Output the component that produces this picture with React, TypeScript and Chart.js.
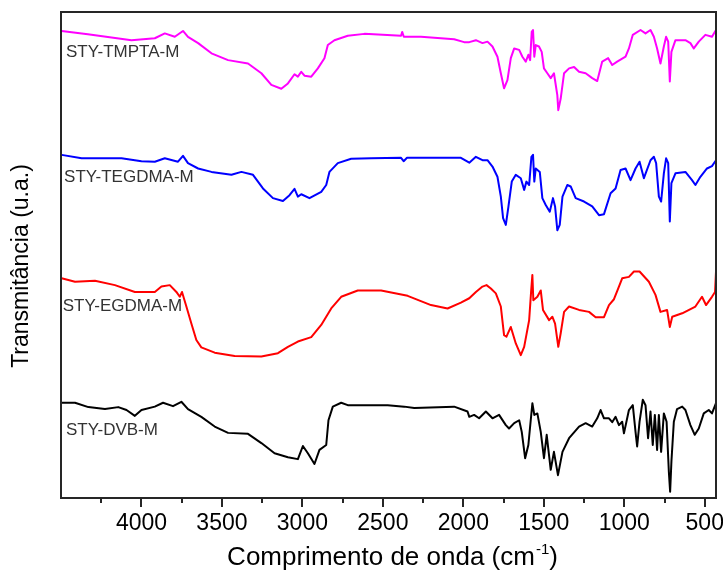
import React, { useEffect, useRef } from "react";
import { Chart, registerables } from "chart.js";

Chart.register(...registerables);

// x: wavenumber (cm-1), y: transmittance (arbitrary units, spectra stacked)
const tmptaWn = [4496, 4333, 4062, 3917, 3855, 3793, 3742, 3711, 3648, 3565, 3462, 3338, 3255, 3193, 3131, 3090, 3049, 3028, 3007, 2987, 2945, 2904, 2863, 2842, 2801, 2718, 2615, 2387, 2380, 2370, 2263, 2057, 1995, 1963, 1922, 1881, 1850, 1819, 1788, 1767, 1747, 1726, 1705, 1684, 1653, 1633, 1612, 1596, 1585, 1575, 1567, 1559, 1550, 1530, 1513, 1499, 1478, 1457, 1437, 1416, 1410, 1395, 1374, 1343, 1312, 1281, 1240, 1199, 1168, 1137, 1100, 1075, 1044, 992, 971, 947, 899, 868, 837, 816, 796, 775, 754, 740, 727, 717, 707, 682, 620, 589, 568, 537, 496, 455, 430];
const tmptaT = [96.1, 95.4, 94.2, 94.6, 95.6, 94.9, 96.1, 94.9, 93.6, 91.5, 90.1, 89.4, 87.4, 85.0, 84.2, 85.3, 87.2, 86.7, 87.7, 86.9, 86.7, 88.4, 90.5, 93.2, 94.2, 95.1, 95.5, 95.1, 95.9, 94.9, 94.9, 94.4, 93.8, 93.8, 94.2, 93.6, 93.9, 92.9, 90.8, 87.4, 84.3, 86.0, 90.5, 92.5, 92.2, 90.8, 89.8, 91.2, 90.1, 95.9, 96.3, 90.8, 93.2, 92.9, 91.8, 88.4, 87.4, 86.4, 87.4, 82.9, 79.8, 82.2, 87.4, 88.4, 88.7, 87.7, 87.4, 86.4, 85.8, 89.8, 90.5, 89.1, 89.8, 90.8, 92.5, 95.3, 96.3, 95.6, 96.3, 94.9, 92.5, 89.4, 92.9, 94.9, 93.9, 85.7, 91.8, 94.2, 94.2, 93.6, 92.5, 93.9, 95.3, 94.9, 96.3];

const tegdmaWn = [4496, 4372, 4124, 4000, 3917, 3855, 3773, 3742, 3711, 3648, 3565, 3441, 3379, 3307, 3245, 3183, 3121, 3080, 3049, 3028, 3007, 2956, 2883, 2852, 2832, 2780, 2697, 2573, 2387, 2371, 2350, 2015, 1963, 1922, 1881, 1850, 1819, 1788, 1767, 1753, 1736, 1720, 1699, 1674, 1643, 1622, 1608, 1591, 1577, 1567, 1559, 1550, 1525, 1509, 1488, 1463, 1443, 1430, 1416, 1401, 1384, 1354, 1333, 1302, 1250, 1199, 1157, 1126, 1085, 1054, 1023, 992, 961, 930, 905, 878, 837, 816, 802, 785, 771, 754, 740, 727, 717, 707, 682, 620, 579, 558, 527, 486, 455, 430];
const tegdmaT = [70.6, 69.9, 69.9, 69.3, 69.2, 69.9, 69.2, 70.4, 68.9, 67.8, 67.1, 66.5, 67.1, 66.5, 63.7, 61.7, 61.1, 62.3, 63.6, 62.0, 62.5, 61.7, 63.0, 64.4, 67.1, 68.9, 69.8, 69.9, 70.0, 69.3, 70.0, 70.0, 69.0, 70.2, 69.5, 69.5, 68.2, 66.1, 62.0, 57.6, 56.2, 59.9, 65.1, 66.5, 65.8, 63.4, 65.1, 64.4, 70.2, 70.6, 65.1, 67.8, 67.1, 61.7, 60.3, 58.9, 61.7, 60.0, 55.1, 56.2, 62.0, 64.4, 64.1, 61.7, 61.0, 60.0, 58.2, 58.4, 62.7, 63.7, 67.5, 67.8, 65.4, 67.8, 69.2, 65.8, 69.5, 70.2, 68.9, 62.0, 61.0, 66.8, 69.9, 68.9, 56.9, 64.8, 66.8, 67.1, 65.4, 64.4, 66.1, 67.8, 68.3, 69.5];

const egdmaWn = [4496, 4413, 4289, 4165, 4041, 3917, 3876, 3824, 3783, 3762, 3748, 3721, 3690, 3659, 3628, 3545, 3421, 3255, 3152, 3090, 3028, 2945, 2883, 2821, 2759, 2656, 2511, 2346, 2201, 2098, 2015, 1963, 1922, 1881, 1856, 1829, 1798, 1767, 1747, 1732, 1705, 1674, 1643, 1622, 1591, 1579, 1571, 1565, 1540, 1519, 1505, 1467, 1447, 1430, 1410, 1395, 1374, 1343, 1281, 1219, 1178, 1126, 1095, 1064, 1038, 1013, 971, 940, 905, 847, 806, 775, 734, 717, 702, 640, 558, 517, 492, 455, 436, 430];
const egdmaT = [45.2, 44.5, 44.7, 43.8, 42.4, 42.4, 43.5, 43.8, 42.4, 41.4, 42.4, 39.4, 35.9, 32.5, 31.0, 29.9, 29.2, 29.1, 29.8, 31.1, 32.2, 33.1, 35.6, 39.0, 41.4, 42.7, 42.7, 41.6, 39.7, 39.0, 40.2, 41.1, 42.4, 43.5, 43.8, 43.1, 42.1, 39.4, 33.5, 33.2, 35.2, 31.8, 29.4, 31.1, 36.6, 42.4, 45.9, 40.7, 41.4, 42.7, 38.7, 36.6, 37.3, 35.9, 31.1, 33.9, 38.3, 39.4, 38.7, 38.3, 37.2, 37.2, 39.7, 40.9, 43.1, 45.2, 45.5, 46.6, 46.6, 44.5, 41.8, 38.3, 38.7, 35.2, 37.3, 38.0, 39.4, 41.4, 39.7, 41.4, 42.4, 46.6];

const dvbWn = [4496, 4413, 4330, 4227, 4144, 4093, 4041, 4000, 3917, 3866, 3804, 3752, 3711, 3628, 3545, 3462, 3338, 3255, 3173, 3090, 3028, 2997, 2966, 2925, 2894, 2852, 2838, 2811, 2759, 2718, 2470, 2367, 2305, 2057, 1974, 1963, 1933, 1902, 1860, 1819, 1778, 1736, 1716, 1684, 1653, 1637, 1616, 1596, 1571, 1559, 1540, 1519, 1499, 1482, 1457, 1437, 1412, 1384, 1343, 1281, 1240, 1199, 1168, 1147, 1126, 1095, 1075, 1054, 1033, 1013, 1002, 971, 947, 930, 920, 905, 885, 868, 852, 837, 823, 810, 796, 785, 771, 754, 737, 723, 715, 707, 692, 672, 640, 620, 589, 562, 537, 506, 475, 455, 430];
const dvbT = [19.6, 19.6, 18.7, 18.3, 18.7, 18.1, 16.9, 18.1, 18.8, 19.6, 18.9, 19.8, 18.3, 16.7, 14.7, 13.4, 13.2, 11.3, 9.2, 8.4, 8.0, 10.7, 9.2, 7.0, 9.9, 10.9, 16.0, 18.8, 19.6, 19.1, 19.1, 18.8, 18.5, 18.8, 17.8, 16.7, 17.1, 16.4, 17.8, 16.4, 17.1, 15.0, 14.3, 15.4, 16.0, 13.6, 8.2, 10.9, 19.5, 17.1, 17.4, 13.6, 8.2, 13.0, 5.8, 9.5, 4.7, 9.5, 12.3, 14.7, 15.4, 14.7, 16.4, 18.1, 16.4, 16.4, 15.6, 16.7, 15.0, 15.7, 13.3, 18.1, 19.1, 13.6, 10.6, 15.7, 20.2, 19.1, 12.3, 17.8, 10.9, 17.1, 9.9, 17.1, 9.5, 17.4, 15.7, 5.4, 1.3, 7.5, 15.7, 18.3, 18.8, 18.1, 15.0, 13.0, 14.3, 17.4, 18.1, 17.4, 19.5];

const seriesNames = ["STY-TMPTA-M", "STY-TEGDMA-M", "STY-EGDMA-M", "STY-DVB-M"];
const seriesColors = ["#ff00ff", "#0000ff", "#ff0000", "#000000"];
const labelWn = [4469, 4481, 4489, 4469];
const labelT = [91.8, 66.0, 39.5, 14.0];

const majorTicks = [500, 1000, 1500, 2000, 2500, 3000, 3500, 4000];
const minorTicks = [750, 1250, 1750, 2250, 2750, 3250, 3750, 4250];
const xMin = 430;
const xMax = 4500;

const xTitle = "Comprimento de onda (cm";
const xTitleSup = "-1";
const xTitleEnd = ")";
const yTitle = "Transmitância (u.a.)";

const FONT = "'Liberation Sans', Arial, sans-serif";

function pts(wn: number[], t: number[]) {
  return wn.map((w, i) => ({ x: w, y: t[i] }));
}

const decorPlugin = {
  id: "decor",
  afterDraw(chart: any) {
    const { ctx, chartArea, scales } = chart;
    const xs = scales.x;
    const ys = scales.y;
    ctx.save();
    // frame
    ctx.strokeStyle = "#262626";
    ctx.lineWidth = 2;
    ctx.strokeRect(chartArea.left, chartArea.top, chartArea.right - chartArea.left, chartArea.bottom - chartArea.top);
    // minor ticks
    ctx.beginPath();
    for (const v of minorTicks) {
      const px = Math.round(xs.getPixelForValue(v));
      ctx.moveTo(px, chartArea.bottom);
      ctx.lineTo(px, chartArea.bottom + 5);
    }
    ctx.stroke();
    // series labels
    ctx.fillStyle = "#333333";
    ctx.font = `17px ${FONT}`;
    ctx.textBaseline = "middle";
    ctx.textAlign = "left";
    seriesNames.forEach((n, i) => {
      ctx.fillText(n, xs.getPixelForValue(labelWn[i]), ys.getPixelForValue(labelT[i]));
    });
    // y title
    ctx.fillStyle = "#000";
    ctx.save();
    ctx.translate(28, 266);
    ctx.rotate(-Math.PI / 2);
    ctx.font = `23px ${FONT}`;
    ctx.textAlign = "center";
    ctx.textBaseline = "alphabetic";
    ctx.fillText(yTitle, 0, 0);
    ctx.restore();
    // x title
    ctx.textBaseline = "alphabetic";
    ctx.textAlign = "left";
    ctx.font = `26px ${FONT}`;
    const w1 = ctx.measureText(xTitle).width;
    const w3 = ctx.measureText(xTitleEnd).width;
    ctx.font = `15px ${FONT}`;
    const w2 = ctx.measureText(xTitleSup).width;
    const total = w1 + w2 + w3 + 1;
    const cx = (chartArea.left + chartArea.right) / 2 + 4;
    const x0 = cx - total / 2;
    const base = 565;
    ctx.font = `26px ${FONT}`;
    ctx.fillText(xTitle, x0, base);
    ctx.font = `15px ${FONT}`;
    ctx.fillText(xTitleSup, x0 + w1 + 1, base - 11);
    ctx.font = `26px ${FONT}`;
    ctx.fillText(xTitleEnd, x0 + w1 + w2 + 1, base);
    ctx.restore();
  },
};

export default function App() {
  const ref = useRef<HTMLCanvasElement | null>(null);
  useEffect(() => {
    if (!ref.current) return;
    const data = [pts(tmptaWn, tmptaT), pts(tegdmaWn, tegdmaT), pts(egdmaWn, egdmaT), pts(dvbWn, dvbT)];
    const chart = new Chart(ref.current, {
      type: "line",
      data: {
        datasets: data.map((d, i) => ({
          label: seriesNames[i],
          data: d,
          borderColor: seriesColors[i],
          backgroundColor: seriesColors[i],
          borderWidth: 2,
          pointRadius: 0,
          tension: 0,
          borderJoinStyle: "round" as const,
        })),
      },
      options: {
        responsive: false,
        animation: false,
        layout: { padding: { top: 12, right: 7, left: 0, bottom: 0 } },
        plugins: { legend: { display: false }, tooltip: { enabled: false } },
        scales: {
          x: {
            type: "linear",
            reverse: true,
            min: xMin,
            max: xMax,
            afterBuildTicks: (s: any) => {
              s.ticks = majorTicks.map((v) => ({ value: v }));
            },
            afterFit: (s: any) => {
              s.height = 83;
              s.paddingLeft = 0;
              s.paddingRight = 0;
            },
            grid: { display: true, drawOnChartArea: false, drawTicks: true, tickLength: 9, color: "#262626", lineWidth: 2 },
            border: { display: false },
            ticks: {
              autoSkip: false,
              maxRotation: 0,
              minRotation: 0,
              padding: 3,
              color: "#000",
              font: { family: FONT, size: 23 },
              callback: (v: any) => String(v),
            },
          },
          y: {
            type: "linear",
            min: 0,
            max: 100,
            afterFit: (s: any) => {
              s.width = 61;
            },
            grid: { display: false },
            border: { display: false },
            ticks: { display: false },
          },
        },
      },
      plugins: [decorPlugin],
    });
    return () => chart.destroy();
  }, []);
  return (
    <div style={{ position: "absolute", left: 0, top: 0, width: 723, height: 581, background: "#fff" }}>
      <canvas ref={ref} width={723} height={581} />
    </div>
  );
}
